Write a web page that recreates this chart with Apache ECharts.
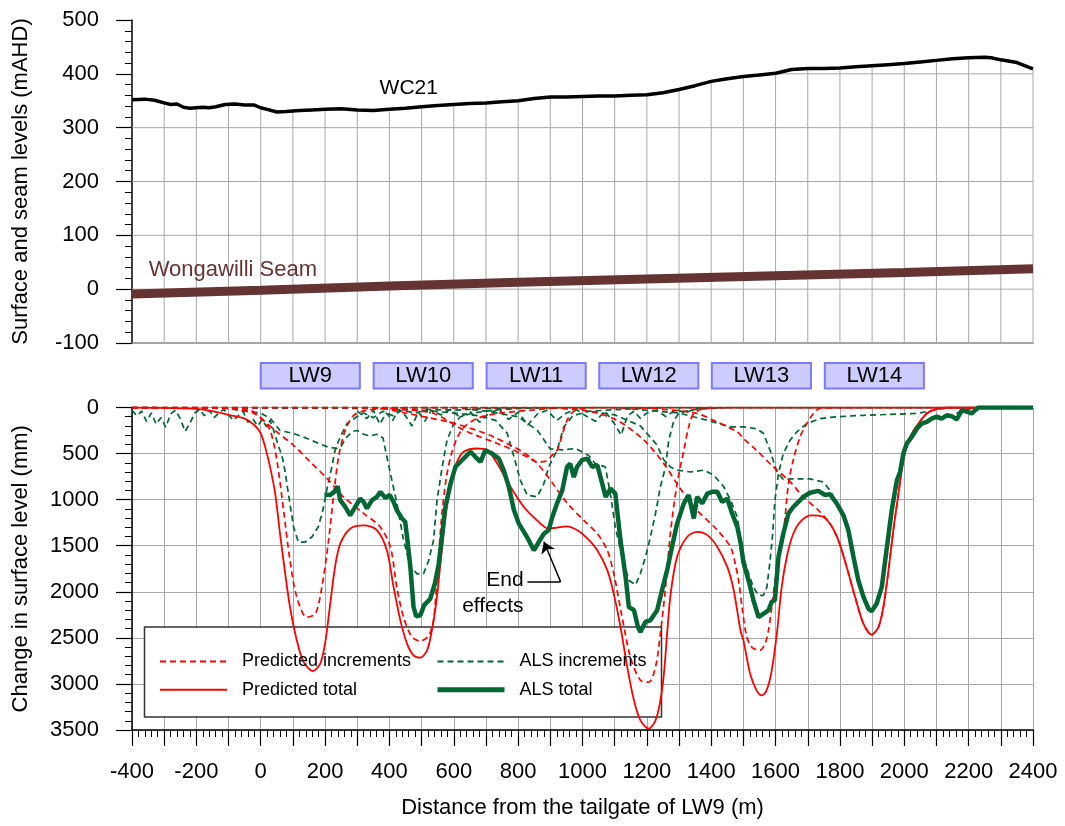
<!DOCTYPE html>
<html>
<head>
<meta charset="utf-8">
<title>WC21 surface and subsidence profile</title>
<script src="https://cdn.jsdelivr.net/npm/echarts@6/dist/echarts.min.js"></script>
<style>
  html, body { margin: 0; padding: 0; background: #fff; }
  #chart { width: 1065px; height: 826px; }
</style>
</head>
<body>
<div id="chart"></div>
<script>
// distance (m) / level (mAHD)
const surfaceWC21 = [
  [-400,352],[-360,353],[-330,351],[-300,346],[-280,343],[-260,344],[-240,338],[-220,336],[-200,337],
  [-180,338],[-160,337],[-140,339],[-110,343],[-80,344],[-50,342],[-20,342],[0,337],[20,334],[50,329],
  [80,330],[120,332],[160,333],[200,334],[250,335],[300,333],[350,332],[400,334],[450,336],[500,339],
  [550,341],[600,343],[650,345],[700,346],[750,348],[800,350],[850,354],[900,357],[950,357],[1000,358],
  [1050,359],[1100,359],[1150,360],[1200,361],[1250,365],[1300,371],[1350,378],[1400,386],[1450,391],
  [1500,395],[1550,398],[1600,401],[1650,408],[1700,410],[1750,410],[1800,411],[1850,413],[1900,415],
  [1950,417],[2000,419],[2050,422],[2100,425],[2150,428],[2200,430],[2250,431],[2270,430],[2300,426],
  [2350,421],[2400,409]
];
const seamWongawilli = [[-400,-9],[0,-2],[400,6],[800,13],[1200,19],[1600,25],[2000,31],[2400,38]];

// longwall panel extents (m)
const panelNames = ["LW9", "LW10", "LW11", "LW12", "LW13", "LW14"];
const panelStart = [0, 351, 702, 1052, 1402, 1753];
const panelEnd = [308, 659, 1010, 1360, 1710, 2061];

// distance (m) / subsidence (mm)
const predictedTotal = [
  [-400,0],[-300,5],[-200,15],[-150,40],[-100,80],[-50,120],[-20,190],[0,280],[14,430],[29,645],[45,935],
  [60,1370],[76,1800],[91,2165],[112,2525],[133,2760],[162,2860],[185,2780],[200,2560],[216,2130],[231,1730],
  [247,1480],[278,1315],[320,1280],[361,1330],[392,1550],[413,1950],[434,2310],[455,2565],[475,2690],
  [496,2715],[517,2635],[530,2455],[545,2130],[559,1680],[574,1190],[590,825],[610,590],[631,480],[672,445],
  [704,463],[735,608],[776,860],[818,1080],[859,1225],[895,1315],[921,1303],[952,1290],[983,1330],[1015,1420],
  [1046,1550],[1077,1765],[1097,2020],[1118,2380],[1139,2815],[1160,3180],[1180,3395],[1206,3485],[1227,3395],
  [1242,3180],[1253,2890],[1263,2455],[1274,2020],[1294,1620],[1325,1405],[1356,1350],[1388,1385],[1419,1513],
  [1450,1730],[1470,1985],[1491,2420],[1500,2525],[1521,2890],[1541,3070],[1557,3125],[1572,3070],[1588,2855],
  [1604,2455],[1619,1950],[1635,1620],[1655,1370],[1681,1225],[1712,1170],[1743,1180],[1769,1260],[1795,1440],
  [1821,1730],[1847,2055],[1873,2345],[1899,2465],[1920,2380],[1935,2165],[1951,1765],[1966,1330],[1982,935],
  [1997,570],[2018,320],[2044,175],[2070,65],[2096,20],[2132,0],[2400,0]
];
const predIncLW9 = [
  [-400,0],[-200,0],[-100,5],[-33,30],[0,110],[29,245],[50,570],[71,1115],[91,1660],[112,2055],[143,2275],
  [170,2240],[190,1950],[211,1440],[226,970],[242,535],[263,245],[289,85],[330,30],[400,10],[500,0],[2400,0]
];
const predIncLW10 = [
  [-400,0],[-150,0],[-60,30],[-20,65],[50,265],[102,410],[154,590],[206,770],[257,970],[320,1150],[371,1295],
  [403,1515],[423,1950],[444,2275],[470,2490],[496,2535],[522,2475],[537,2310],[548,1850],[562,1200],[577,760],
  [593,500],[612,320],[633,210],[672,120],[735,65],[838,30],[950,0],[2400,0]
];
const predIncLW11 = [
  [-400,0],[300,0],[450,25],[538,65],[631,245],[735,390],[787,465],[830,540],[860,590],[885,585],[905,520],
  [921,465],[937,300],[952,140],[970,50],[1000,10],[1050,0],[2400,0]
];
const predIncLW12 = [
  [-400,0],[350,0],[450,60],[520,110],[600,170],[724,320],[848,570],[953,1040],[1004,1225],[1046,1370],
  [1077,1550],[1097,1800],[1121,2235],[1149,2710],[1180,2960],[1206,2980],[1227,2815],[1242,2455],[1258,1950],
  [1273,1370],[1294,825],[1315,465],[1330,210],[1346,65],[1380,10],[1420,0],[2400,0]
];
const predIncLW13 = [
  [-400,0],[900,0],[1020,40],[1108,140],[1191,355],[1253,610],[1300,860],[1356,1115],[1419,1330],[1460,1515],
  [1475,1700],[1486,1900],[1497,2200],[1510,2480],[1526,2600],[1552,2635],[1567,2565],[1578,2420],[1588,2165],
  [1604,1730],[1624,1370],[1640,825],[1655,570],[1676,320],[1697,175],[1718,65],[1738,10],[1800,0],[2400,0]
];
const predIncLW14 = [
  [-400,0],[1150,0],[1250,20],[1356,65],[1420,160],[1481,265],[1500,335],[1541,465],[1593,645],[1645,805],
  [1686,970],[1733,1115],[1769,1260],[1795,1440],[1821,1730],[1847,2055],[1873,2345],[1899,2465],[1920,2380],
  [1935,2165],[1951,1765],[1966,1330],[1982,935],[1997,570],[2018,320],[2044,175],[2070,65],[2096,20],[2132,0],
  [2400,0]
];
const alsTotal = [
  [198,945],[216,950],[229,915],[239,855],[247,1005],[263,1080],[278,1170],[291,1095],[309,990],[320,1025],
  [330,1095],[346,1005],[361,970],[372,915],[387,980],[401,950],[413,1025],[423,1115],[439,1205],[449,1240],
  [456,1440],[465,1730],[475,2165],[483,2265],[496,2255],[508,2145],[527,2075],[542,1900],[553,1700],[562,1440],
  [574,1080],[590,825],[605,645],[626,570],[652,480],[667,535],[683,590],[698,463],[719,500],[740,555],[755,680],
  [771,860],[787,1115],[802,1260],[818,1350],[833,1440],[849,1550],[864,1460],[880,1370],[895,1330],[906,1190],
  [921,1040],[937,900],[952,645],[962,610],[973,755],[983,645],[999,570],[1015,555],[1030,645],[1046,625],
  [1056,755],[1072,970],[1087,880],[1102,935],[1118,1440],[1134,1840],[1144,2165],[1160,2200],[1172,2380],
  [1180,2435],[1196,2325],[1211,2310],[1232,2200],[1247,1985],[1263,1765],[1278,1515],[1294,1260],[1315,1040],
  [1330,950],[1346,1205],[1356,970],[1372,1040],[1388,935],[1403,915],[1419,915],[1434,1025],[1450,990],
  [1465,1150],[1481,1295],[1492,1480],[1500,1680],[1516,1875],[1531,2090],[1547,2275],[1562,2240],[1578,2200],
  [1588,2110],[1598,2090],[1609,1620],[1624,1370],[1640,1150],[1655,1080],[1671,1025],[1686,970],[1707,925],
  [1733,905],[1754,950],[1769,940],[1790,1040],[1811,1170],[1826,1330],[1842,1620],[1857,1875],[1873,2055],
  [1889,2185],[1899,2210],[1914,2130],[1930,1950],[1946,1515],[1961,1115],[1977,790],[1987,700],[1997,500],
  [2008,390],[2023,320],[2039,230],[2054,175],[2070,155],[2085,120],[2101,100],[2116,120],[2132,85],[2148,95],
  [2163,130],[2179,30],[2194,45],[2210,65],[2220,30],[2230,0],[2400,0]
];
const alsIncLW9 = [
  [-400,30],[-385,90],[-370,40],[-355,150],[-340,60],[-325,180],[-310,110],[-295,215],[-280,70],[-265,30],
  [-250,120],[-235,260],[-220,170],[-205,60],[-190,20],[-175,90],[-160,30],[-145,110],[-130,60],[-115,20],
  [-100,80],[-85,140],[-70,90],[-55,40],[-40,160],[-25,120],[-10,200],[5,130],[18,210],[29,140],[40,245],
  [55,420],[66,520],[76,700],[86,935],[102,1295],[117,1460],[138,1460],[159,1405],[179,1295],[193,1115],
  [205,900],[221,645],[231,465],[247,320],[268,175],[299,100],[320,60],[350,110],[380,40],[410,90],[440,30],
  [480,60],[520,20],[600,30],[700,10],[900,0],[2400,0]
];
const alsIncLW10 = [
  [-400,0],[-100,10],[-50,40],[0,60],[30,120],[60,250],[100,280],[140,330],[180,390],[210,430],[237,445],
  [250,420],[265,330],[285,260],[300,250],[320,290],[340,310],[360,290],[380,330],[392,535],[403,715],
  [423,1035],[444,1440],[465,1730],[486,1805],[506,1805],[522,1660],[537,1440],[548,1005],[564,645],[579,355],
  [600,175],[621,100],[660,60],[720,30],[800,10],[900,0],[2400,0]
];
const alsIncLW11 = [
  [-400,0],[400,10],[500,30],[600,60],[680,90],[730,140],[766,280],[787,535],[807,790],[828,950],[859,970],
  [880,825],[895,645],[921,465],[942,210],[970,90],[1020,40],[1150,15],[1250,0],[2400,0]
];
const alsIncLW12 = [
  [-400,0],[600,0],[700,40],[800,100],[860,250],[900,450],[937,460],[978,445],[1019,520],[1040,610],
  [1071,645],[1087,945],[1102,1300],[1123,1620],[1144,1875],[1165,1925],[1180,1800],[1196,1620],[1211,1405],
  [1227,1150],[1242,860],[1258,645],[1268,355],[1284,140],[1300,60],[1350,20],[1450,0],[2400,0]
];
const alsIncLW13 = [
  [-400,0],[900,0],[1000,30],[1100,80],[1180,200],[1230,400],[1253,570],[1273,645],[1294,680],[1336,700],
  [1377,680],[1408,735],[1439,860],[1460,1005],[1481,1190],[1492,1440],[1500,1620],[1516,1800],[1531,1950],
  [1547,2040],[1562,2040],[1573,1950],[1583,1660],[1591,1370],[1598,1005],[1609,715],[1624,500],[1645,355],
  [1666,265],[1697,175],[1738,120],[1790,100],[1873,85],[1977,72],[2039,65],[2091,30],[2142,0],[2400,0]
];
const alsIncLW14 = [
  [-400,0],[1100,0],[1200,30],[1300,60],[1400,150],[1459,210],[1500,210],[1541,230],[1562,280],[1583,465],
  [1604,700],[1624,780],[1660,775],[1707,775],[1749,810],[1769,900],[1790,1040],[1811,1170],[1826,1330],
  [1842,1620],[1857,1875],[1873,2055],[1889,2185],[1899,2210],[1914,2130],[1930,1950],[1946,1515],[1961,1115],
  [1977,790],[1997,500],[2023,320],[2054,175],[2085,120],[2116,120],[2148,95],[2179,30],[2230,0],[2400,0]
];
const alsIncScatter = [
  [300,40],[330,120],[350,30],[370,180],[390,60],[410,140],[430,20],[450,90],[470,200],[490,50],[510,150],
  [530,30],[560,80],[590,20],[620,110],[650,40],[680,160],[710,60],[740,20],[770,130],[800,50],[830,190],
  [860,70],[890,30],[920,140],[950,60],[980,20],[1010,90],[1040,150],[1070,40],[1100,180],[1120,300],[1140,90],
  [1160,40],[1180,120],[1200,60],[1230,30],[1260,100],[1290,20],[1320,60],[1350,10],[1400,0]
];

// annotations
const wcLabel = [[460, 374]];
const seamLabel = [[-348, 36]];
const endEffectsLabel = [[817, 2015]];
const endEffectsArrow = [[829, 1892], [932, 1892], [880, 1457]];

const FONT = "Liberation Sans, Arial, sans-serif";
const GRID_COLOR = "#a8a8a8";
const RED = "#ff0000";
const GREEN = "#006633";
const X_MIN = -400, X_MAX = 2400, X_STEP = 100;
const TOP_MIN = -100, TOP_MAX = 500, TOP_STEP = 100;

// top panel grid only shows below the surface profile: build the grid segments from it
function surfaceAt(x) {
  for (let i = 0; i < surfaceWC21.length - 1; i++) {
    const a = surfaceWC21[i], b = surfaceWC21[i + 1];
    if (x >= a[0] && x <= b[0]) {
      return a[1] + ((b[1] - a[1]) * (x - a[0])) / (b[0] - a[0]);
    }
  }
  return surfaceWC21[surfaceWC21.length - 1][1];
}
function rangesBelowSurface(level) {
  const out = [];
  for (let i = 0; i < surfaceWC21.length - 1; i++) {
    const a = surfaceWC21[i], b = surfaceWC21[i + 1];
    let x0 = null, x1 = null;
    if (a[1] >= level && b[1] >= level) { x0 = a[0]; x1 = b[0]; }
    else if (a[1] >= level || b[1] >= level) {
      const xc = a[0] + ((level - a[1]) * (b[0] - a[0])) / (b[1] - a[1]);
      if (a[1] >= level) { x0 = a[0]; x1 = xc; } else { x0 = xc; x1 = b[0]; }
    }
    if (x0 === null) continue;
    const last = out[out.length - 1];
    if (last && Math.abs(last[1] - x0) < 1e-6) last[1] = x1;
    else out.push([x0, x1]);
  }
  return out;
}
const topGridSegments = [];
for (let x = X_MIN + X_STEP; x <= X_MAX; x += X_STEP) {
  topGridSegments.push([x, TOP_MIN, x, surfaceAt(x)]);
}
for (let y = TOP_MIN + TOP_STEP; y < TOP_MAX; y += TOP_STEP) {
  rangesBelowSurface(y).forEach((r) => topGridSegments.push([r[0], y, r[1], y]));
}

var dom = document.getElementById("chart");
var myChart = echarts.init(dom, null, { renderer: "canvas", width: 1065, height: 826 });

function renderGridSegment(params, api) {
  const p0 = api.coord([api.value(0), api.value(1)]);
  const p1 = api.coord([api.value(2), api.value(3)]);
  return {
    type: "line",
    shape: { x1: p0[0], y1: p0[1], x2: p1[0], y2: p1[1] },
    style: { stroke: GRID_COLOR, lineWidth: 1 },
  };
}

function renderPanel(params, api) {
  const p0 = api.coord([api.value(0), 1]);
  const p1 = api.coord([api.value(1), 0]);
  return {
    type: "rect",
    shape: { x: p0[0], y: p0[1], width: p1[0] - p0[0], height: p1[1] - p0[1] },
    style: { fill: "#ccccff", stroke: "#7b7bff", lineWidth: 2 },
    textContent: {
      style: { text: panelNames[params.dataIndex], fontSize: 22, fill: "#000", fontFamily: FONT },
    },
    textConfig: { position: "inside" },
  };
}

function dashed(name, data, color) {
  return {
    name: name,
    type: "line",
    xAxisIndex: 1,
    yAxisIndex: 1,
    data: data,
    symbol: "none",
    smooth: color === RED ? 0.3 : false,
    lineStyle: { color: color, width: 1.7, type: [6, 4] },
    itemStyle: { color: color },
    z: 2,
  };
}

const tickLabel = {
  fontSize: 22,
  color: "#000",
  fontFamily: FONT,
  formatter: function (v) {
    return String(v);
  },
};
const blackLine = { color: "#000", width: 1.5 };

// legend: only the line, no marker
const legendBase = {
  orient: "vertical",
  top: 651.5,
  padding: 0,
  itemWidth: 67,
  itemHeight: 14,
  itemGap: 8.3,
  itemStyle: { color: "rgba(0,0,0,0)", borderWidth: 0, opacity: 0 },
  textStyle: { fontSize: 18, color: "#000", lineHeight: 20, padding: [0, 0, 0, 10] },
  selectedMode: false,
};

const option = {
  animation: false,
  backgroundColor: "#fff",
  textStyle: { fontFamily: FONT },
  grid: [
    { left: 132, right: 32, top: 20, height: 323 },
    { left: 132, right: 32, top: 407.5, height: 322.5 },
    { left: 132, right: 32, top: 363, height: 25.5 },
  ],
  legend: [
    Object.assign({}, legendBase, {
      left: 159,
      data: ["Predicted increments", "Predicted total"],
    }),
    Object.assign({}, legendBase, {
      left: 435,
      data: ["ALS increments", { name: "ALS total", lineStyle: { width: 5 } }],
    }),
  ],
  graphic: [
    {
      type: "rect",
      z: 1,
      shape: { x: 144.5, y: 627, width: 517, height: 90 },
      style: { fill: "#fff", stroke: "#333", lineWidth: 1.5 },
    },
  ],
  xAxis: [
    {
      gridIndex: 0,
      type: "value",
      min: X_MIN,
      max: X_MAX,
      interval: X_STEP,
      axisLine: { onZero: false, lineStyle: { color: "#888", width: 1.5 } },
      axisTick: { show: false },
      axisLabel: { show: false },
      splitLine: { show: false },
    },
    {
      gridIndex: 1,
      type: "value",
      min: X_MIN,
      max: X_MAX,
      interval: X_STEP,
      name: "Distance from the tailgate of LW9 (m)",
      nameLocation: "middle",
      nameGap: 67,
      nameTextStyle: { fontSize: 22, color: "#000", fontFamily: FONT },
      axisLine: { onZero: false, lineStyle: blackLine },
      axisTick: { length: 16, lineStyle: { color: "#000", width: 1.2 } },
      minorTick: { show: true, splitNumber: 5, length: 7, lineStyle: { color: "#000", width: 1 } },
      axisLabel: Object.assign({}, tickLabel, {
        margin: 31,
        formatter: function (v) {
          return v % 200 === 0 ? String(v) : "";
        },
      }),
      splitLine: { show: true, lineStyle: { color: GRID_COLOR, width: 1 } },
    },
    { gridIndex: 2, type: "value", min: X_MIN, max: X_MAX, show: false },
  ],
  yAxis: [
    {
      gridIndex: 0,
      type: "value",
      position: "left",
      min: TOP_MIN,
      max: TOP_MAX,
      interval: TOP_STEP,
      name: "Surface and seam levels (mAHD)",
      nameLocation: "middle",
      nameGap: 100,
      nameTextStyle: { fontSize: 22, color: "#000", fontFamily: FONT },
      axisLine: { show: true, onZero: false, lineStyle: blackLine },
      axisTick: { length: 16, lineStyle: { color: "#000", width: 1.2 } },
      minorTick: { show: true, splitNumber: 5, length: 7, lineStyle: { color: "#000", width: 1 } },
      axisLabel: Object.assign({}, tickLabel, { margin: 33 }),
      splitLine: { show: false },
    },
    {
      gridIndex: 1,
      type: "value",
      position: "left",
      inverse: true,
      min: 0,
      max: 3500,
      interval: 500,
      name: "Change in surface level (mm)",
      nameLocation: "middle",
      nameGap: 100,
      nameTextStyle: { fontSize: 22, color: "#000", fontFamily: FONT },
      axisLine: { show: true, onZero: false, lineStyle: blackLine },
      axisTick: { length: 16, lineStyle: { color: "#000", width: 1.2 } },
      minorTick: { show: true, splitNumber: 5, length: 7, lineStyle: { color: "#000", width: 1 } },
      axisLabel: Object.assign({}, tickLabel, { margin: 33 }),
      splitLine: { show: true, lineStyle: { color: GRID_COLOR, width: 1 } },
    },
    { gridIndex: 2, type: "value", min: 0, max: 1, show: false },
  ],
  series: [
    {
      // top panel gridlines, stopping at the surface profile
      type: "custom",
      xAxisIndex: 0,
      yAxisIndex: 0,
      data: topGridSegments,
      encode: { x: [0, 2], y: [1, 3] },
      renderItem: renderGridSegment,
      silent: true,
      z: 1,
    },
    {
      name: "WC21",
      type: "line",
      xAxisIndex: 0,
      yAxisIndex: 0,
      data: surfaceWC21,
      symbol: "none",
      lineStyle: { color: "#000", width: 3.5 },
      z: 3,
    },
    {
      name: "Wongawilli Seam",
      type: "line",
      xAxisIndex: 0,
      yAxisIndex: 0,
      data: seamWongawilli,
      symbol: "none",
      lineStyle: { color: "#663333", width: 9 },
      z: 3,
    },
    {
      type: "scatter",
      xAxisIndex: 0,
      yAxisIndex: 0,
      data: wcLabel,
      symbolSize: 0,
      silent: true,
      itemStyle: { opacity: 1 },
      label: { show: true, position: "inside", formatter: "WC21", fontSize: 21, color: "#000" },
      z: 4,
    },
    {
      type: "scatter",
      xAxisIndex: 0,
      yAxisIndex: 0,
      data: seamLabel,
      symbolSize: 0,
      silent: true,
      itemStyle: { opacity: 1 },
      label: { show: true, position: "right", distance: 0, formatter: "Wongawilli Seam", fontSize: 22, color: "#663333" },
      z: 4,
    },
    {
      type: "custom",
      xAxisIndex: 2,
      yAxisIndex: 2,
      data: panelStart.map((s, i) => [s, panelEnd[i]]),
      encode: { x: [0, 1] },
      renderItem: renderPanel,
      silent: true,
    },
    dashed("ALS increments", alsIncLW9, GREEN),
    dashed("ALS increments", alsIncLW10, GREEN),
    dashed("ALS increments", alsIncLW11, GREEN),
    dashed("ALS increments", alsIncLW12, GREEN),
    dashed("ALS increments", alsIncLW13, GREEN),
    dashed("ALS increments", alsIncLW14, GREEN),
    dashed("ALS increments", alsIncScatter, GREEN),
    dashed("Predicted increments", predIncLW9, RED),
    dashed("Predicted increments", predIncLW10, RED),
    dashed("Predicted increments", predIncLW11, RED),
    dashed("Predicted increments", predIncLW12, RED),
    dashed("Predicted increments", predIncLW13, RED),
    dashed("Predicted increments", predIncLW14, RED),
    {
      name: "Predicted total",
      type: "line",
      xAxisIndex: 1,
      yAxisIndex: 1,
      data: predictedTotal,
      symbol: "none",
      smooth: 0.3,
      lineStyle: { color: RED, width: 1.8 },
      itemStyle: { color: RED },
      z: 3,
    },
    {
      name: "ALS total",
      type: "line",
      xAxisIndex: 1,
      yAxisIndex: 1,
      data: alsTotal,
      symbol: "none",
      lineStyle: { color: GREEN, width: 4.5 },
      itemStyle: { color: GREEN },
      z: 4,
    },
    {
      type: "scatter",
      xAxisIndex: 1,
      yAxisIndex: 1,
      data: endEffectsLabel,
      symbolSize: 0,
      silent: true,
      itemStyle: { opacity: 1 },
      label: {
        show: true,
        position: "left",
        distance: 0,
        align: "right",
        formatter: "End\neffects",
        fontSize: 21,
        lineHeight: 26,
        color: "#000",
      },
      markLine: {
        silent: true,
        symbol: ["none", "none"],
        label: { show: false },
        lineStyle: { color: "#000", width: 1.5, type: "solid" },
        data: [
          [{ coord: endEffectsArrow[0] }, { coord: endEffectsArrow[1] }],
          [{ coord: endEffectsArrow[1] }, { coord: endEffectsArrow[2], symbol: "arrow", symbolSize: 11 }],
        ],
      },
      z: 5,
    },
  ],
};

myChart.setOption(option);
</script>
</body>
</html>
